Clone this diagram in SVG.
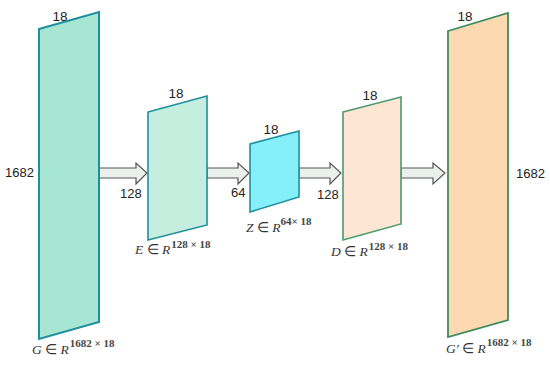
<svg xmlns="http://www.w3.org/2000/svg" width="550" height="365" viewBox="0 0 550 365">
<style>
.num{font-family:"Liberation Sans",Arial,sans-serif;font-size:13px;fill:#222}
.top{font-family:"Liberation Sans",Arial,sans-serif;font-size:13.5px;fill:#222}
.lbl{font-family:"Liberation Serif","Times New Roman",serif;font-size:13.5px;font-style:italic;fill:#333}
.sup{font-size:11px;font-style:normal;font-weight:bold;fill:#444}
.up{font-style:normal}
.arrow{fill:#eaf1ec;stroke:#555;stroke-width:1.2;stroke-linejoin:miter}
</style>
<rect width="550" height="365" fill="#ffffff"/>
<g id="connectors">
<polygon class="arrow" points="99,168 136,168 136,163 147,173 136,184 136,178 99,178"/>
<polygon class="arrow" points="207,168 238,168 238,163 249,173 238,184 238,178 207,178"/>
<polygon class="arrow" points="299,168 330,168 330,163 341,173 330,184 330,178 299,178"/>
<polygon class="arrow" points="401,168 433,168 433,163 445,173 433,184 433,178 401,178"/>
</g>
<g id="G">
<polygon points="39,29 99,12 99,322 39,339" fill="#a6e6d3" stroke="#1e8f9e" stroke-width="2"/>
<text class="top" x="60" y="21" text-anchor="middle">18</text>
<text class="num" x="5" y="177">1682</text>
<text class="lbl" x="32" y="354">G <tspan class="up">∈</tspan> R<tspan class="sup" dx="1" dy="-7">1682 × 18</tspan></text>
</g>
<g id="E">
<polygon points="148,112 207,96 207,225 148,240" fill="#c6eedf" stroke="#1e8f9e" stroke-width="1.6"/>
<text class="top" x="176" y="98" text-anchor="middle">18</text>
<text class="num" x="120" y="198">128</text>
<text class="lbl" x="135" y="254">E <tspan class="up">∈</tspan> R<tspan class="sup" dx="1" dy="-6">128 × 18</tspan></text>
</g>
<g id="Z">
<polygon points="250,144 299,131 299,197 250,212" fill="#85effa" stroke="#1e8f9e" stroke-width="1.6"/>
<text class="top" x="271" y="134" text-anchor="middle">18</text>
<text class="num" x="231" y="197">64</text>
<text class="lbl" x="246" y="232">Z <tspan class="up">∈</tspan> R<tspan class="sup" dx="0" dy="-7">64× 18</tspan></text>
</g>
<g id="D">
<polygon points="343,112 401,97 401,224 343,240" fill="#fde6d4" stroke="#4d9a6e" stroke-width="1.6"/>
<text class="top" x="370" y="100" text-anchor="middle">18</text>
<text class="num" x="317" y="199">128</text>
<text class="lbl" x="331" y="256">D <tspan class="up">∈</tspan> R<tspan class="sup" dx="1" dy="-6">128 × 18</tspan></text>
</g>
<g id="Gprime">
<polygon points="448,31 508,13 508,320 448,337" fill="#fdd9b2" stroke="#3f8a5c" stroke-width="1.8"/>
<text class="top" x="465" y="21" text-anchor="middle">18</text>
<text class="num" x="516" y="178">1682</text>
<text class="lbl" x="446" y="353">G′ <tspan class="up">∈</tspan> R<tspan class="sup" dx="1" dy="-7">1682 × 18</tspan></text>
</g>
</svg>
